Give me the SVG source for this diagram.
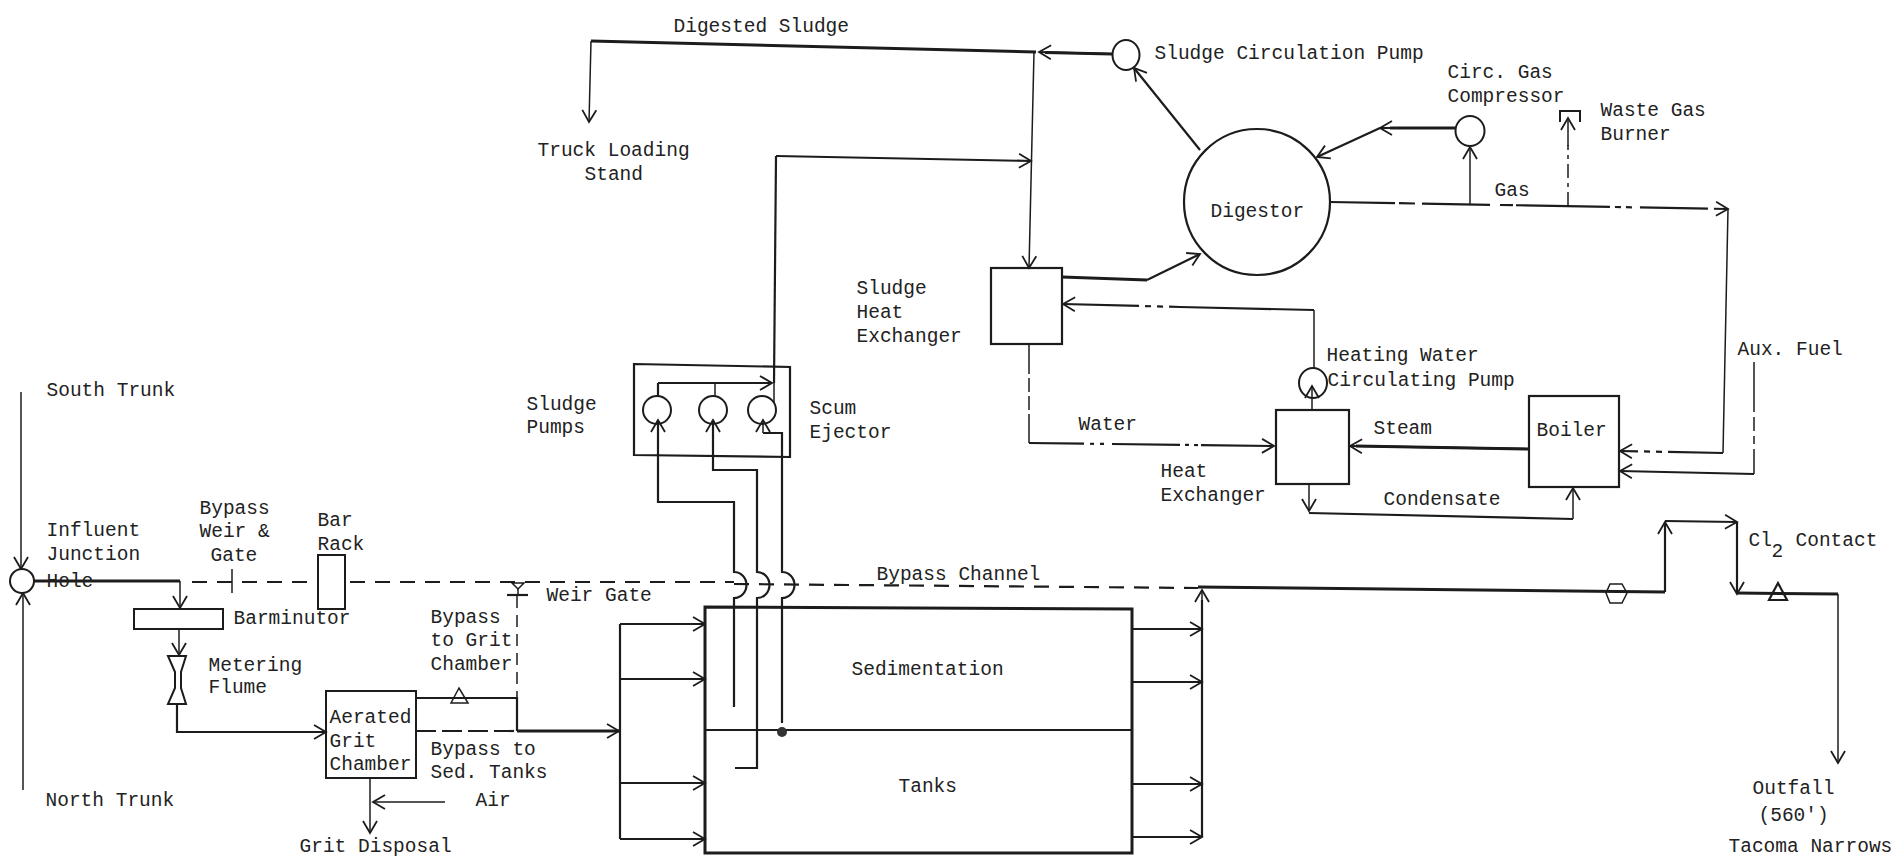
<svg xmlns="http://www.w3.org/2000/svg" width="1896" height="859" viewBox="0 0 1896 859">
<style>
text{font-family:"Liberation Mono","DejaVu Sans Mono",monospace;font-size:19.5px;fill:#222;transform:translate(-0.5px,-1px)}
.n{fill:none;stroke:#1c1c1c;stroke-width:2}
.t{fill:none;stroke:#1c1c1c;stroke-width:1.5}
.m{fill:none;stroke:#1c1c1c;stroke-width:2.2}
.b{fill:none;stroke:#1c1c1c;stroke-width:3}
.a{marker-end:url(#arr)}
.d{stroke-dasharray:15 10}
</style>
<defs>
<marker id="arr" markerUnits="userSpaceOnUse" markerWidth="18" markerHeight="18" viewBox="-14 -9 18 18" refX="0" refY="0" orient="auto" overflow="visible">
<path d="M-12,-7 L0,0 L-12,7" fill="none" stroke="#1c1c1c" stroke-width="1.8"/>
</marker>
</defs>
<rect width="1896" height="859" fill="#fff"/>
<g id="connectors">
<path class="t a" d="M21,392 V569"/>
<path class="t a" d="M23,790 V593"/>
<path class="b" d="M34,581 H180"/>
<path class="t a" d="M180,581 V608"/>
<path class="m d" d="M192,582 H318"/>
<path class="t" d="M232,569 V593"/>
<path class="m d" d="M350,582 H734"/>
<path class="m d" d="M734,584 L1198,588"/>
<path class="t" d="M518,588 V595"/>
<path class="m" d="M507,595 H528"/>
<path class="t" d="M517,596 V698" style="stroke-dasharray:12 7"/>
<path class="t a" d="M179,629 V655"/>
<path class="m a" d="M177,705 V732 H326"/>
<path class="m" d="M416,698 H517 V731"/>
<path class="m" d="M416,731 H517" style="stroke-dasharray:20 6"/>
<path class="b a" d="M517,731 H619"/>
<path class="t a" d="M370,778 V833"/>
<path class="t a" d="M445,802 H373"/>
<path class="m" d="M620,624 V839"/>
<path class="m a" d="M620,624 H705"/>
<path class="m a" d="M620,679 H705"/>
<path class="m a" d="M620,783 H705"/>
<path class="m a" d="M620,839 H705"/>
<path class="m a" d="M1132,629 H1202"/>
<path class="m a" d="M1132,682 H1202"/>
<path class="m a" d="M1132,784 H1202"/>
<path class="m a" d="M1132,837 H1202"/>
<path class="m" d="M1202,837 V600"/>
<path class="t a" d="M1202,620 V590"/>
<path class="b" d="M1198,587 L1665,592"/>
<path class="m a" d="M1665,592 V522"/>
<path class="m a" d="M1665,521 L1737,522"/>
<path class="m a" d="M1737,522 V594"/>
<path class="b" d="M1737,593 L1838,594"/>
<path class="t a" d="M1838,594 V763"/>
<path class="m a" d="M658,383 H772"/>
<path class="m" d="M658,396 V383"/>
<path class="t" d="M715,383 V396"/>
<path class="t" d="M774,364 V403"/>
<path class="m" d="M774,383 L776,156"/>
<path class="m a" d="M776,156 L1031,161"/>
<path class="m a" d="M734,707 V598 A12,12.5 0 0 0 734,572 V502 H658 V420"/>
<path class="m a" d="M735,768 H757 V598 A12,12.5 0 0 0 757,572 V470 H713 V420"/>
<path class="m" d="M782,723 V598 A12,12.5 0 0 0 782,572 V433 H763"/>
<path class="t a" d="M763,433 V420"/>
<path class="m a" d="M1112,54 L1039,52"/>
<path class="b" d="M1112,54 L1045,52.5"/>
<path class="b" d="M1036,52 L591,41"/>
<path class="t a" d="M591,41 L589,122"/>
<path class="t a" d="M1034,52 L1029,268"/>
<path class="m a" d="M1200,150 L1134,68"/>
<path class="b" d="M1062,277 L1147,280"/>
<path class="m a" d="M1147,280 L1200,254"/>
<path class="m a" d="M1314,310 L1180,307 L1063,304" style="stroke-dasharray:145 6 6 6 6 6 100"/>
<path class="t" d="M1314,310 V368"/>
<path class="t" d="M1029,344 V443" style="stroke-dasharray:30 4 14 4 14 4 30"/>
<path class="m a" d="M1029,443 L1274,446" style="stroke-dasharray:55 6 4 6 4 8 68 5 4 5 4 3 90"/>
<path class="t a" d="M1312,410 V386"/>
<path class="m a" d="M1330,202 L1728,209" style="stroke-dasharray:65 4 16 7 68 10 13 3 94 5 6 5 6 8 68 6 50"/>
<path class="t a" d="M1470,204 V147"/>
<path class="b" d="M1456,128 H1390"/>
<path class="m a" d="M1456,128 H1380"/>
<path class="m a" d="M1380,128 L1317,157"/>
<path class="t" d="M1568,206 V145" style="stroke-dasharray:14 5 4 5"/>
<path class="t a" d="M1568,146 V118"/>
<path class="t" d="M1728,209 L1723,453"/>
<path class="m a" d="M1723,453 L1620,451" style="stroke-dasharray:55 6 6 6 6 6 30"/>
<path class="b" d="M1529,449 L1356,446"/>
<path class="m a" d="M1529,449 L1350,446"/>
<path class="t" d="M1754,362 V474" style="stroke-dasharray:50 5 14 5 8 5 40"/>
<path class="m a" d="M1754,474 L1620,471"/>
<path class="t a" d="M1309,484 V511"/>
<path class="m" d="M1309,513 L1573,519"/>
<path class="t a" d="M1573,519 V488"/>
</g>
<g id="south-trunk"><text x="47" y="397">South Trunk</text></g>
<g id="north-trunk"><text x="46" y="807">North Trunk</text></g>
<g id="influent-junction-hole">
<circle class="n" cx="22" cy="581" r="12" style="fill:#fff"/>
<text x="47" y="537">Influent</text><text x="47" y="561">Junction</text><text x="47" y="588">Hole</text>
</g>
<g id="bypass-weir-gate"><text x="200" y="515">Bypass</text><text x="200" y="538">Weir &amp;</text><text x="211" y="562">Gate</text></g>
<g id="bar-rack"><rect class="n" x="318" y="555" width="27" height="54"/><text x="318" y="527">Bar</text><text x="318" y="551">Rack</text></g>
<g id="barminutor"><rect class="n" x="134" y="609" width="89" height="20"/><text x="234" y="625">Barminutor</text></g>
<g id="metering-flume"><path class="n" d="M168,656 H186 L181,672 V688 L186,704 H168 L175,688 V672 Z"/><text x="209" y="672">Metering</text><text x="209" y="694">Flume</text></g>
<g id="grit-chamber"><rect class="n" x="326" y="691" width="90" height="87"/><text x="330" y="724">Aerated</text><text x="330" y="748">Grit</text><text x="330" y="771">Chamber</text></g>
<g id="grit-valve"><path class="t" d="M459,688 L451,703 H468 Z"/><path class="t" d="M451,698 H468"/></g>
<g id="weir-gate"><path class="t" d="M512,583 H524 L518,589 Z"/><text x="547" y="602">Weir Gate</text></g>
<g id="bypass-to-grit"><text x="431" y="624">Bypass</text><text x="431" y="647">to Grit</text><text x="431" y="671">Chamber</text></g>
<g id="bypass-to-sed"><text x="431" y="756">Bypass to</text><text x="431" y="779">Sed. Tanks</text></g>
<g id="air"><text x="476" y="807">Air</text></g>
<g id="grit-disposal"><text x="300" y="853">Grit Disposal</text></g>
<g id="sludge-pumps">
<path class="m" d="M634,364 L790,367 V457 L634,455 Z"/>
<circle class="n" cx="657" cy="410" r="14"/><circle class="n" cx="713" cy="410" r="14"/><circle class="n" cx="762" cy="410" r="14"/>
<text x="527" y="411">Sludge</text><text x="527" y="434">Pumps</text>
</g>
<g id="scum-ejector"><text x="810" y="415">Scum</text><text x="810" y="439">Ejector</text></g>
<g id="sedimentation-tanks">
<path class="b" d="M705,607 L1132,609 V853 H705 Z"/>
<path class="m" d="M705,730 H1132"/>
<circle cx="782" cy="732" r="5" fill="#333"/>
<text x="852" y="676">Sedimentation</text><text x="899" y="793">Tanks</text>
</g>
<g id="bypass-channel"><text x="877" y="581">Bypass Channel</text></g>
<g id="effluent-meter"><path class="t" d="M1610,584 H1622 L1627,593 L1622,603 H1610 L1606,593 Z"/></g>
<g id="cl2-valve"><path class="m" d="M1778,583 L1769,600 H1787 Z"/></g>
<g id="cl2-contact"><text x="1749" y="547">Cl</text><text x="1772" y="558">2</text><text x="1796" y="547">Contact</text></g>
<g id="outfall"><text x="1753" y="795">Outfall</text><text x="1759" y="822">(560')</text><text x="1729" y="853">Tacoma Narrows</text></g>
<g id="digested-sludge"><text x="674" y="33">Digested Sludge</text></g>
<g id="truck-loading"><text x="538" y="157">Truck Loading</text><text x="585" y="181">Stand</text></g>
<g id="sludge-circulation-pump"><ellipse class="n" cx="1126" cy="55" rx="13.5" ry="15"/><text x="1155" y="60">Sludge Circulation Pump</text></g>
<g id="sludge-heat-exchanger"><rect class="m" x="991" y="268" width="71" height="76"/><text x="857" y="295">Sludge</text><text x="857" y="319">Heat</text><text x="857" y="343">Exchanger</text></g>
<g id="digestor"><circle class="m" cx="1257" cy="202" r="73"/><text x="1211" y="218">Digestor</text></g>
<g id="gas-compressor"><ellipse class="n" cx="1470" cy="131" rx="14.5" ry="15"/><text x="1448" y="79">Circ. Gas</text><text x="1448" y="103">Compressor</text></g>
<g id="waste-gas-burner"><path class="n" d="M1560,122 V111 H1580 V122"/><text x="1601" y="117">Waste Gas</text><text x="1601" y="141">Burner</text></g>
<g id="gas-label"><text x="1495" y="197">Gas</text></g>
<g id="water-label"><text x="1079" y="431">Water</text></g>
<g id="heat-exchanger"><rect class="m" x="1276" y="410" width="73" height="74"/><text x="1161" y="478">Heat</text><text x="1161" y="502">Exchanger</text></g>
<g id="heating-water-pump"><ellipse class="n" cx="1313" cy="383" rx="14" ry="15"/><text x="1327" y="362">Heating Water</text><text x="1328" y="387">Circulating Pump</text></g>
<g id="steam-label"><text x="1374" y="435">Steam</text></g>
<g id="condensate-label"><text x="1384" y="506">Condensate</text></g>
<g id="boiler"><rect class="m" x="1529" y="396" width="90" height="91"/><text x="1537" y="437">Boiler</text></g>
<g id="aux-fuel"><text x="1738" y="356">Aux. Fuel</text></g>
</svg>
